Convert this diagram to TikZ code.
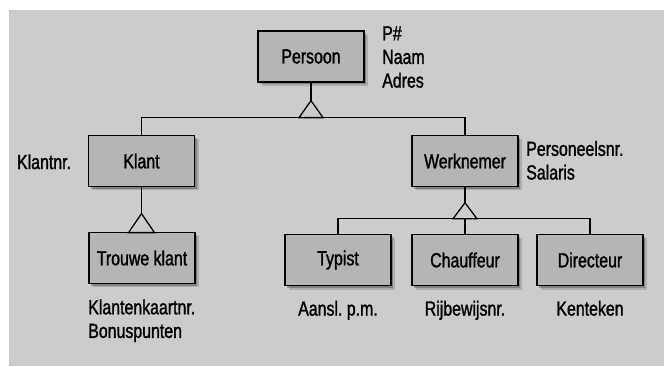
\documentclass[tikz,border=0pt]{standalone}
\usepackage{fontspec}
\setmainfont[FakeStretch=0.78, FakeBold=1.4]{Liberation Sans}
\usepackage{tikz}
\usetikzlibrary{shadows}
\usetikzlibrary{positioning}

\definecolor{bggray}{gray}{0.8}
\definecolor{boxgray}{gray}{0.71}

\tikzset{
  entity/.style={draw, fill=boxgray, line width=0.9pt, minimum width=2.65cm, minimum height=1.275cm, inner sep=0pt,
    drop shadow={shadow xshift=0.1cm, shadow yshift=-0.1cm, opacity=0.15, fill=black},
    drop shadow={shadow xshift=0.06cm, shadow yshift=-0.06cm, opacity=0.25, fill=black}},
  attrib/.style={align=left, inner sep=0pt, anchor=north west},
  under/.style={inner sep=0pt, below=0.36cm of #1},
  link/.style={line width=0.9pt},
}

\begin{document}
\begin{tikzpicture}[font=\fontsize{14.5}{16.8}\selectfont\frenchspacing]
    \useasboundingbox (0, 0) rectangle (16.6, 9.15);
    \fill[bggray] (0.225, 0) rectangle (16.6, 8.9);

    \node[entity] (persoon) at (7.775, 7.7375) {Persoon};
    \node[entity] (klant) at (3.5375, 5.125) {Klant};
    \node[entity] (werknemer) at (11.625, 5.125) {Werknemer};
    \node[entity] (trouwe) at (3.55, 2.7) {Trouwe klant};
    \node[entity] (typist) at (8.45, 2.65) {Typist};
    \node[entity] (chauffeur) at (11.625, 2.65) {Chauffeur};
    \node[entity] (directeur) at (14.75, 2.65) {Directeur};

    \node[attrib] (persattr) at (9.55, 8.5) {P\#\\Naam\\Adres};
    \node[attrib] (klantattr) at (0.42, 5.3) {Klantnr.};
    \node[attrib] (werkattr) at (13.15, 5.63) {Personeelsnr.\\Salaris};
    \node[attrib] (trouweattr) at (2.2, 1.67) {Klantenkaartnr.\\Bonuspunten};
    \node[under=typist] (typistattr) {Aansl. p.m.};
    \node[under=chauffeur] (chauffattr) {Rijbewijsnr.};
    \node[under=directeur] (direcattr) {Kenteken};

    \draw[link] (persoon.south) -- ++(0, -0.45) coordinate (ptip);
    \draw[link] (ptip) -- ++(-0.3, -0.425) coordinate (pleft) -- ++(0.6, 0) -- cycle;
    \draw[link] (klant.north) -- (klant.north |- pleft) -- (werknemer.north |- pleft) -- (werknemer.north);

    \draw[link] (klant.south) -- ++(0, -0.6625) coordinate (ktip);
    \draw[link] (ktip) -- ++(-0.325, -0.475) -- ++(0.65, 0) -- cycle;

    \draw[link] (werknemer.south) -- ++(0, -0.39) coordinate (wtip);
    \draw[link] (wtip) -- ++(-0.3, -0.4) coordinate (wleft) -- ++(0.6, 0) -- cycle;
    \draw[link] (typist.north) -- (typist.north |- wleft) -- (directeur.north |- wleft) -- (directeur.north);
    \draw[link] (chauffeur.north) -- (chauffeur.north |- wleft);
  \end{tikzpicture}
\end{document}
